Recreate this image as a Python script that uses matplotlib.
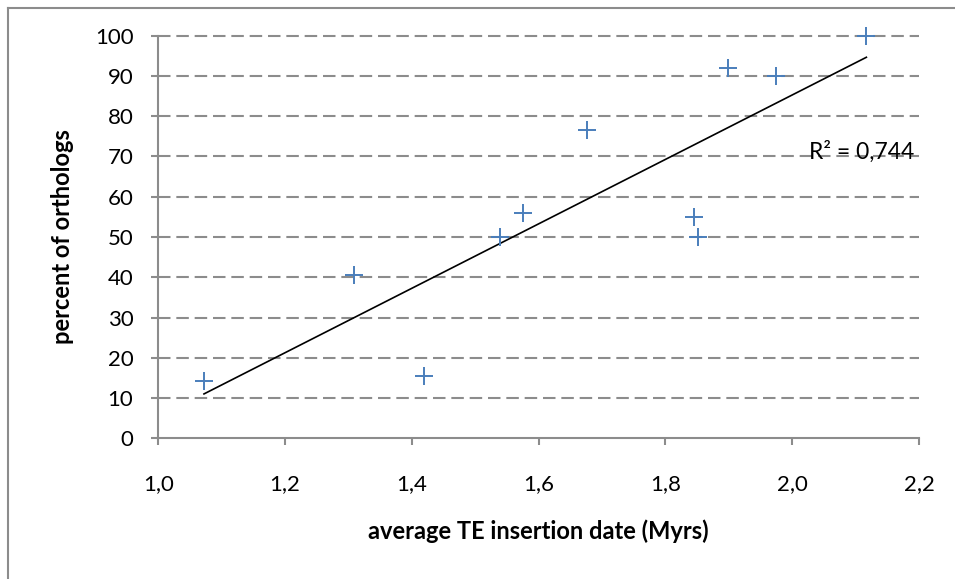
import matplotlib
matplotlib.use('Agg')
import matplotlib.pyplot as plt
import numpy as np
from matplotlib.lines import Line2D

plt.rcParams['font.family'] = ['Lato', 'DejaVu Sans']

# values
insertion_date = [1.072, 1.308, 1.419, 1.539, 1.576, 1.676, 1.845, 1.852, 1.898, 1.975, 2.117]
pct_orthologs = [14.3, 40.5, 15.5, 50.0, 56.0, 76.7, 55.0, 50.0, 92.1, 90.1, 100.0]
r2_label = 'R² = 0,744'
x_ticks = [1.0, 1.2, 1.4, 1.6, 1.8, 2.0, 2.2]
y_ticks = list(range(0, 101, 10))

grey = '#8c8c8c'
blue = '#4a7ebb'

fig = plt.figure(figsize=(9.55, 5.79), dpi=100)
ax = fig.add_axes([0.1658, 0.2430, 0.9623 - 0.1658, 0.9383 - 0.2430])

# dashed horizontal gridlines
for y in y_ticks[1:]:
    ax.axhline(y, color=grey, lw=1.5, dashes=(6, 2.8), zorder=1, clip_on=False)

ax.plot(insertion_date, pct_orthologs, linestyle='none', marker='+', ms=13, mew=1.4,
        color=blue, zorder=3, clip_on=False)

# linear trend line over the data range
slope, intercept = np.polyfit(insertion_date, pct_orthologs, 1)
xs = np.array([min(insertion_date), max(insertion_date)])
ax.plot(xs, slope * xs + intercept, color='black', lw=1.2, zorder=2)

ax.text(2.192, 71.1, r2_label, ha='right', va='center', fontsize=16.5, color='black')

ax.set_xlim(1.0, 2.2)
ax.set_ylim(0, 100)
ax.set_xticks(x_ticks)
ax.set_xticklabels([f'{t:.1f}'.replace('.', ',') for t in x_ticks])
ax.set_yticks(y_ticks)

for side in ['top', 'right']:
    ax.spines[side].set_visible(False)
for side in ['left', 'bottom']:
    ax.spines[side].set_color(grey)
    ax.spines[side].set_linewidth(1.5)
ax.tick_params(axis='both', direction='out', length=5, width=1.5, color=grey,
               labelsize=16, labelcolor='black')
ax.tick_params(axis='x', pad=21)
ax.tick_params(axis='y', pad=13)

ax.set_xlabel('average TE insertion date (Myrs)', fontsize=17, fontweight='bold')
ax.set_ylabel('percent of orthologs', fontsize=17, fontweight='bold')
ax.xaxis.set_label_coords(0.5, -0.230)
ax.xaxis.label.set_va('center')
ax.yaxis.set_label_coords(-0.1265, 0.50)
ax.yaxis.label.set_va('center')

# chart area border (left and top edges visible)
fig.add_artist(Line2D([8 / 955, 8 / 955], [0, 1 - 8 / 579], color=grey, lw=1.5))
fig.add_artist(Line2D([8 / 955, 1], [1 - 8 / 579, 1 - 8 / 579], color=grey, lw=1.5))

fig.savefig('out.png', dpi=100)
